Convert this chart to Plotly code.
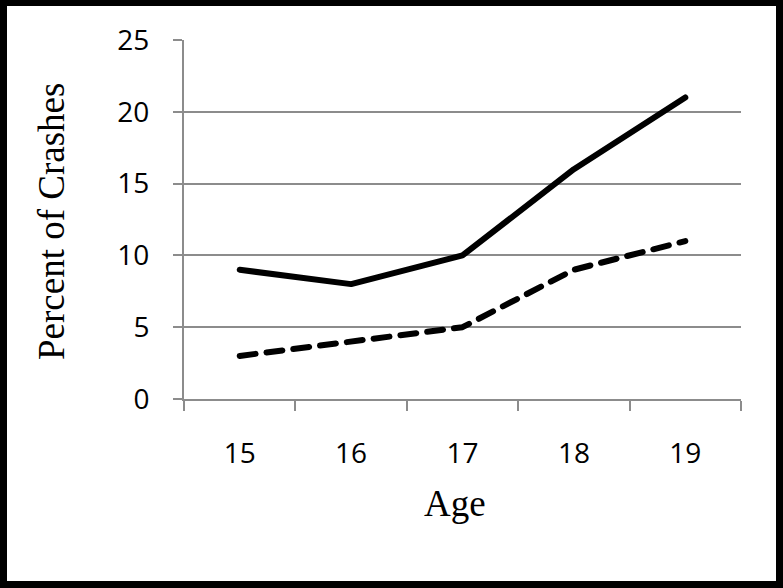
import plotly.graph_objects as go

ages = ["15", "16", "17", "18", "19"]
solid_series = [9, 8, 10, 16, 21]
dashed_series = [3, 4, 5, 9, 11]
y_ticks = [0, 5, 10, 15, 20, 25]

W, H = 783, 588
L, R, T, B = 184, 741, 40, 399

def px_x(p):
    return (p - L) / (R - L)

def px_y(p):
    return (B - p) / (B - T)

fig = go.Figure()
fig.add_trace(go.Scatter(x=ages, y=solid_series, mode="lines",
                         line=dict(color="black", width=6),
                         showlegend=False, hoverinfo="skip"))
fig.add_trace(go.Scatter(x=ages, y=dashed_series, mode="lines",
                         line=dict(color="black", width=6, dash="16px,11px"),
                         showlegend=False, hoverinfo="skip"))

grid = "#8c8c8c"
tickfont = dict(family="Open Sans, Liberation Sans, sans-serif", size=28, color="black")
serif = dict(family="Liberation Serif, Times New Roman, serif", size=37, color="black")

fig.update_layout(
    width=W, height=H,
    margin=dict(l=L, r=W - R, t=T, b=H - B, pad=0),
    paper_bgcolor="white", plot_bgcolor="white",
    showlegend=False,
    xaxis=dict(type="category", range=[-0.5, 4.5], tickson="boundaries",
               ticks="outside", ticklen=10, tickwidth=2, tickcolor=grid,
               showline=True, linecolor=grid, linewidth=2,
               showgrid=False, zeroline=False,
               tickfont=tickfont, ticklabelstandoff=28),
    yaxis=dict(range=[0, 25], tickvals=y_ticks, ticks="outside", ticklen=9, tickwidth=2,
               tickcolor=grid, showline=True, linecolor=grid, linewidth=2,
               showgrid=True, gridcolor=grid, gridwidth=2, zeroline=False,
               tickfont=tickfont, ticklabelstandoff=18),
    annotations=[
        dict(text="Age", xref="paper", yref="paper", x=px_x(455), y=px_y(503),
             xanchor="center", yanchor="middle", showarrow=False, font=serif),
        dict(text="Percent of Crashes", xref="paper", yref="paper", x=px_x(51), y=px_y(222),
             xanchor="center", yanchor="middle", textangle=-90, showarrow=False, font=serif),
    ],
    shapes=[dict(type="rect", xref="paper", yref="paper",
                 x0=px_x(3.5), x1=px_x(779.5), y0=px_y(2.5), y1=px_y(584.5),
                 line=dict(color="black", width=7), fillcolor="rgba(0,0,0,0)", layer="above")],
)

post = (
    "document.body.style.margin='0';document.body.style.overflow='hidden';"
    "document.querySelectorAll('.scatterlayer path.js-line').forEach(function(p){"
    "p.style.strokeLinecap='round';p.style.strokeLinejoin='round';});"
)
fig.write_html("out.html", config={"displayModeBar": False}, post_script=post)
